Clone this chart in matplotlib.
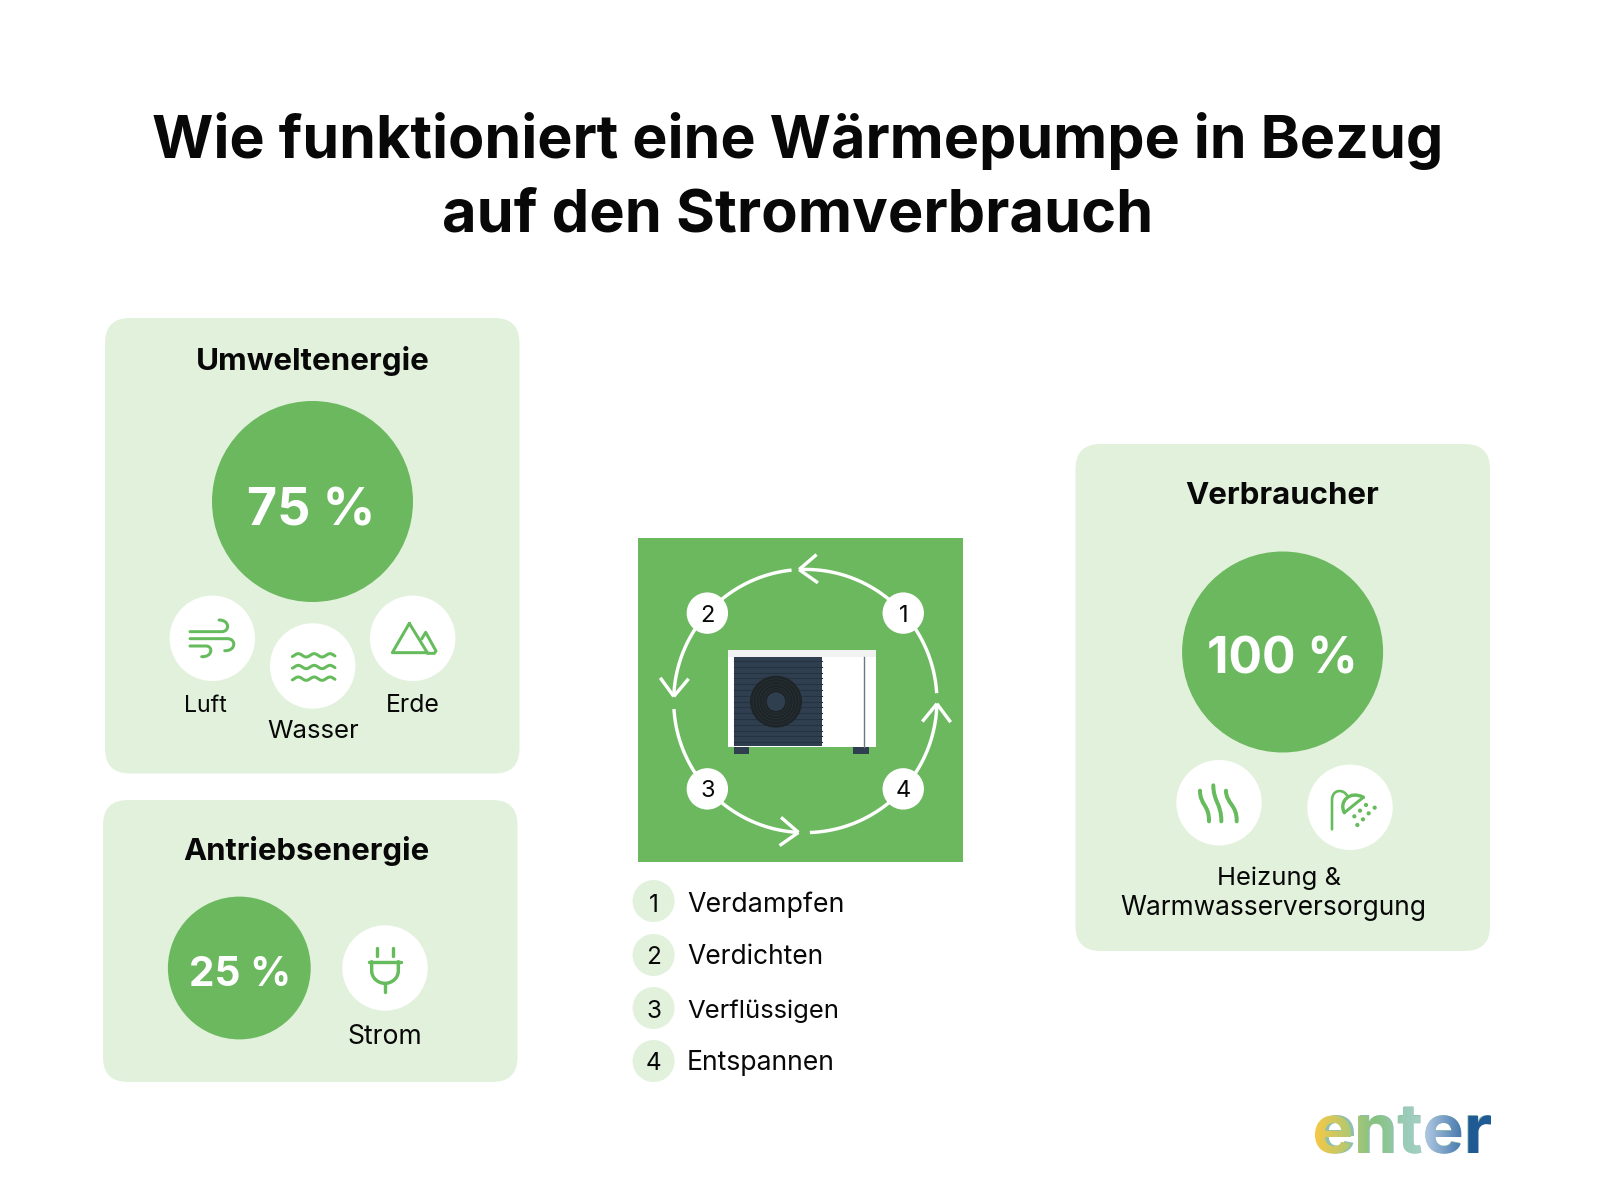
import numpy as np
import matplotlib
matplotlib.use("Agg")
import matplotlib.pyplot as plt
from matplotlib.colors import LinearSegmentedColormap
from matplotlib.font_manager import FontProperties
from matplotlib.patches import Circle, FancyBboxPatch, Rectangle, PathPatch
from matplotlib.path import Path
from matplotlib.textpath import TextPath
from matplotlib.transforms import Affine2D

TITLE_LINES = ["Wie funktioniert eine Wärmepumpe in Bezug", "auf den Stromverbrauch"]
PANEL_TITLES = ["Umweltenergie", "Antriebsenergie", "Verbraucher"]
SHARES = [75, 25, 100]
SOURCES = ["Luft", "Wasser", "Erde"]
DRIVE = ["Strom"]
CONSUMER = ["Heizung &", "Warmwasserversorgung"]
STEPS = ["Verdampfen", "Verdichten", "Verflüssigen", "Entspannen"]
LOGO = "enter"

GREEN = "#6cb85f"
ICON = "#66bb5c"
PANEL = "#e2f1dc"
INK = "#080808"
FONT = "Inter"

fig = plt.figure(figsize=(16, 12), dpi=100, facecolor="white")
ax = fig.add_axes([0, 0, 1, 1])
ax.set_xlim(0, 1600)
ax.set_ylim(1200, 0)
ax.axis("off")
rend = fig.canvas.get_renderer()


def text(s, x, y, width=None, weight="normal", color=INK, ha="center", zorder=6, size=20):
    t = ax.text(x, y, s, ha=ha, va="baseline", family=FONT, weight=weight, color=color,
                fontsize=size, zorder=zorder)
    if width is not None:
        w = t.get_window_extent(rend).width
        t.set_fontsize(size * width / w)
    return t


def panel(x0, y0, x1, y1):
    ax.add_patch(FancyBboxPatch((x0, y0), x1 - x0, y1 - y0,
                                boxstyle="round,pad=0,rounding_size=25",
                                fc=PANEL, ec="none", zorder=1))


def disc(x, y, r, c="white", z=2):
    ax.add_patch(Circle((x, y), r, fc=c, ec="none", zorder=z))


def stroke(ox, oy, pts, lw=3.0, color=ICON, z=4):
    p = np.asarray(pts, float)
    ax.plot(ox + p[:, 0] / 3, oy + p[:, 1] / 3, color=color, lw=lw * 0.72,
            solid_capstyle="round", solid_joinstyle="round", zorder=z)


def bez(ox, oy, verts, lw=3.0, color=ICON):
    v = np.asarray(verts, float)
    codes = [Path.MOVETO] + [Path.CURVE4] * (len(v) - 1)
    xy = np.c_[ox + v[:, 0] / 3, oy + v[:, 1] / 3]
    ax.add_patch(PathPatch(Path(xy, codes), fc="none", ec=color, lw=lw * 0.72,
                           capstyle="round", joinstyle="round", zorder=4))


# Title
text(TITLE_LINES[0], 798, 158, 1292, "bold")
text(TITLE_LINES[1], 798, 231.5, 712, "bold")

# Panels
panel(105, 318, 519.5, 773.5)
panel(103, 800, 517.5, 1082)
panel(1075.5, 444, 1490, 951)
text(PANEL_TITLES[0], 312.5, 370.5, 234, "bold")
text(PANEL_TITLES[1], 306, 860.5, 246, "bold")
text(PANEL_TITLES[2], 1282.5, 504, 194, "bold")

# Share bubbles
disc(312.5, 501.5, 100.5, GREEN)
disc(239.3, 968, 71.4, GREEN)
disc(1282.6, 652, 100.5, GREEN)
text(f"{SHARES[0]} %", 311, 526, 128, "bold", "white")
text(f"{SHARES[1]} %", 240, 986, 102, "bold", "white")
text(f"{SHARES[2]} %", 1282, 673.5, 151, "bold", "white")

# White icon discs
R = 42.7
for cx, cy in [(212.3, 638.3), (312.7, 666), (412.7, 638.3), (385, 968), (1219, 802.7), (1350, 807.3)]:
    disc(cx, cy, R)

text(SOURCES[0], 205, 712, 43)
text(SOURCES[1], 313, 738, 92)
text(SOURCES[2], 412.5, 712, 54)
text(DRIVE[0], 385, 1043.5, 75)
text(CONSUMER[0], 1278.6, 885, 124)
text(CONSUMER[1], 1273.5, 915, 306)

# Wind icon
ox, oy = 150, 590
bez(ox, oy, [(120, 125), (150, 125), (180, 125), (215, 125),
             (240, 125), (240, 90), (207, 90)])
bez(ox, oy, [(120, 146), (160, 146), (200, 146), (232, 146),
             (260, 146), (258, 184), (224, 182)])
bez(ox, oy, [(120, 168), (135, 168), (150, 168), (168, 168),
             (190, 168), (188, 202), (155, 200)])

# Waves icon
for wy in (196, 231, 266):
    xs = np.linspace(427, 555, 80)
    stroke(ox, oy, np.c_[xs, wy - 5 * np.cos((xs - 445) * 2 * np.pi / 47.5)], lw=3.0)

# Mountain icon
stroke(ox, oy, [(778, 100), (727, 188), (832, 188), (778, 100)], lw=3.0)
stroke(ox, oy, [(815, 147), (827, 127), (858, 183), (853, 190), (832, 190)], lw=3.0)

# Plug icon
ox, oy = 330, 920
stroke(ox, oy, [(141, 84), (141, 108)], lw=3.4)
stroke(ox, oy, [(189, 84), (189, 108)], lw=3.4)
stroke(ox, oy, [(116, 125), (214, 125)], lw=3.4)
bez(ox, oy, [(125, 125), (125, 130), (125, 145), (125, 152),
             (125, 175), (145, 190), (165, 190),
             (185, 190), (205, 175), (205, 152),
             (205, 145), (205, 130), (205, 125)], lw=3.4)
stroke(ox, oy, [(165, 190), (165, 215)], lw=3.4)

# Heat icon
ox, oy = 1150, 750
bez(ox, oy, [(150, 122), (150, 165), (178, 165), (177, 214)], lw=4)
bez(ox, oy, [(190, 106), (190, 155), (214, 160), (214, 214)], lw=4)
bez(ox, oy, [(228, 122), (228, 160), (262, 165), (260, 214)], lw=4)

# Shower icon
bez(ox, oy, [(546, 238), (546, 210), (546, 180), (546, 150),
             (546, 118), (580, 115), (592, 138)], lw=2.6)
bez(ox, oy, [(640, 142), (600, 120), (565, 155), (583, 188)], lw=3.4)
stroke(ox, oy, [(640, 142), (583, 188)], lw=3.0)
for dx, dy in [(648, 165), (674, 173), (630, 182), (656, 190), (613, 199), (639, 208), (622, 225)]:
    disc(ox + dx / 3, oy + dy / 3, 2.1, ICON, 4)

# Central square
ax.add_patch(Rectangle((638, 538), 325, 324, fc=GREEN, ec="none", zorder=1))

# Cycle arcs
CX, CY, RC = 805.3, 701, 131.6
NODE_ANGLE = [41.9, 138.1, 221.9, 318.1]
NODE_R = 20.7
ARC_LW = 3.4 * 0.72


def pt(a, r=RC):
    t = np.radians(a)
    return CX + r * np.cos(t), CY - r * np.sin(t)


def arc(a0, a1):
    a = np.linspace(a0, a1, 60)
    x, y = pt(a)
    ax.plot(x, y, color="white", lw=ARC_LW, zorder=3, solid_capstyle="butt")


def chevron(a):
    tip = np.array(pt(a))
    th = np.radians(a - 90)
    back = np.array([np.cos(th), -np.sin(th)])
    for s in (-38, 38):
        q = np.radians(s)
        rot = np.array([[np.cos(q), -np.sin(q)], [np.sin(q), np.cos(q)]])
        end = tip + rot @ back * 23
        ax.plot([tip[0], end[0]], [tip[1], end[1]], color="white", lw=ARC_LW,
                zorder=3, solid_capstyle="butt")


for a0, a1 in [(41.9, 92.7), (96, 138.1), (138.1, 178), (183.5, 221.9),
               (221.9, 267), (272, 318.1), (318.1, 358.8), (363.4, 401.9)]:
    arc(a0, a1)
for a in (92.7, 178, 267, 358.8):
    chevron(a)

for i, a in enumerate(NODE_ANGLE):
    x, y = pt(a)
    disc(x, y, NODE_R, "white", 4)
    text(str(i + 1), x, y + 8.5, size=17)

# Heat pump unit
ax.add_patch(Rectangle((728, 650), 147.7, 96.7, fc="white", ec="none", zorder=3))
ax.add_patch(Rectangle((728, 650), 147.7, 7, fc="#f1f2f2", ec="none", zorder=3))
ax.add_patch(Rectangle((733.7, 657), 88.6, 88.7, fc="#2f3f4f", ec="none", zorder=3))
for y in np.arange(661, 745, 5.8):
    ax.plot([733.7, 822.3], [y, y], color="#253340", lw=0.8, zorder=3)
disc(776, 701.7, 26, "#1e2528", 4)
for r in (23, 20, 17, 14, 11.5):
    ax.add_patch(Circle((776, 701.7), r, fc="none", ec="#2a3236", lw=0.5, zorder=4))
disc(776, 701.7, 9.3, "#2f3f4f", 4)
ax.plot([864.3, 864.3], [657, 746.5], color="#6b7785", lw=1.0, zorder=4)
ax.add_patch(Rectangle((733.7, 746.7), 15.6, 7.6, fc="#2f3f4f", ec="none", zorder=3))
ax.add_patch(Rectangle((853.3, 746.7), 15.7, 7.6, fc="#2f3f4f", ec="none", zorder=3))

# Legend
rows_y = [901, 955, 1008, 1061]
base_y = [912, 964.5, 1018, 1070]
step_w = [157, 136, 152, 148]
for i, s in enumerate(STEPS):
    disc(653.6, rows_y[i], 21, PANEL)
    text(str(i + 1), 653.6, base_y[i], size=17.5)
    text(s, 687, base_y[i], step_w[i], ha="left")

# Logo: one real word, with a left-to-right colour fade laid over it
LOGO_X0, LOGO_X1, LOGO_BASE = 1315, 1491, 1153
logo = text(LOGO, LOGO_X0, LOGO_BASE, LOGO_X1 - LOGO_X0, "bold", "#8fbfae", ha="left", zorder=5)
logo_px = logo.get_fontsize() / 0.72
cmap = LinearSegmentedColormap.from_list("logo", [
    (0.00, "#f6c945"), (0.22, "#a9c878"), (0.34, "#85c27f"), (0.50, "#9acbb5"),
    (0.60, "#a3cfc5"), (0.64, "#aac3df"), (0.84, "#4478ac"), (0.88, "#1f5a94"),
    (1.00, "#1f5a94")])
tp = TextPath((0, 0), LOGO, size=logo_px, prop=FontProperties(family=FONT, weight="bold"))
bb = tp.get_extents()
sx = (LOGO_X1 - LOGO_X0) / bb.width
tf = Affine2D().translate(-bb.x0, 0).scale(sx, -1).translate(LOGO_X0, LOGO_BASE) + ax.transData
im = ax.imshow(np.linspace(0, 1, 256)[None, :], cmap=cmap,
               extent=(LOGO_X0, LOGO_X1, 1160, 1095),
               aspect="auto", zorder=5.5, interpolation="bilinear")
im.set_clip_path(PathPatch(tp, transform=tf))
ax.set_xlim(0, 1600)
ax.set_ylim(1200, 0)

fig.savefig("out.png", dpi=100)
